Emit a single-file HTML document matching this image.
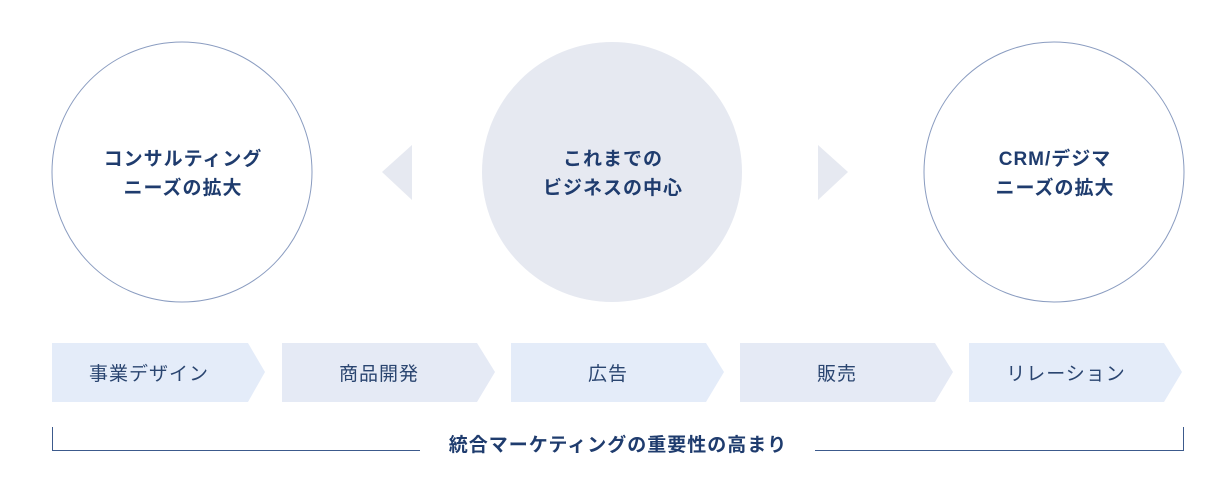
<!DOCTYPE html>
<html><head><meta charset="utf-8"><style>
body{margin:0;background:#fff;width:1221px;height:491px;overflow:hidden}
svg text{font-family:"Liberation Sans","Noto Sans CJK JP",sans-serif;letter-spacing:1px}
</style></head><body>
<svg width="1221" height="491" viewBox="0 0 1221 491">
<circle cx="182" cy="172" r="130" fill="#fff" stroke="#8a9cc0" stroke-width="1"/>
<circle cx="612" cy="172" r="130" fill="#e6e9f1"/>
<circle cx="1054" cy="172" r="130" fill="#fff" stroke="#8a9cc0" stroke-width="1"/>
<polygon points="412,145 412,200 382,172" fill="#e6e9f1"/>
<polygon points="818,145 818,200 848,172" fill="#e6e9f1"/>
<g font-size="19" font-weight="bold" fill="#1f3c6e" text-anchor="middle">
<text x="183" y="165">コンサルティング</text><text x="183" y="194">ニーズの拡大</text>
<text x="613" y="165">これまでの</text><text x="613" y="194">ビジネスの中心</text>
<text x="1055" y="165">CRM/デジマ</text><text x="1055" y="194">ニーズの拡大</text>
</g>
<g fill="#e4ecf9">
<polygon points="52,343 248,343 265,372 248,402 52,402"/>
<polygon points="282,343 477,343 495,372 477,402 282,402" fill="#e5eaf5"/>
<polygon points="511,343 706,343 724,372 706,402 511,402"/>
<polygon points="740,343 935,343 953,372 935,402 740,402" fill="#e5eaf5"/>
<polygon points="969,343 1164,343 1182,372 1164,402 969,402"/>
</g>
<g font-size="19" fill="#2a4570" text-anchor="middle">
<text x="149" y="380">事業デザイン</text>
<text x="379" y="380">商品開発</text>
<text x="608" y="380">広告</text>
<text x="837" y="380">販売</text>
<text x="1066" y="380">リレーション</text>
</g>
<path d="M52.5,427 V450.5 H420 M815,450.5 H1183.5 V427" fill="none" stroke="#3c5a8c" stroke-width="1"/>
<text x="618" y="451" font-size="19" font-weight="bold" fill="#1f3c6e" text-anchor="middle">統合マーケティングの重要性の高まり</text>
</svg>
</body></html>
